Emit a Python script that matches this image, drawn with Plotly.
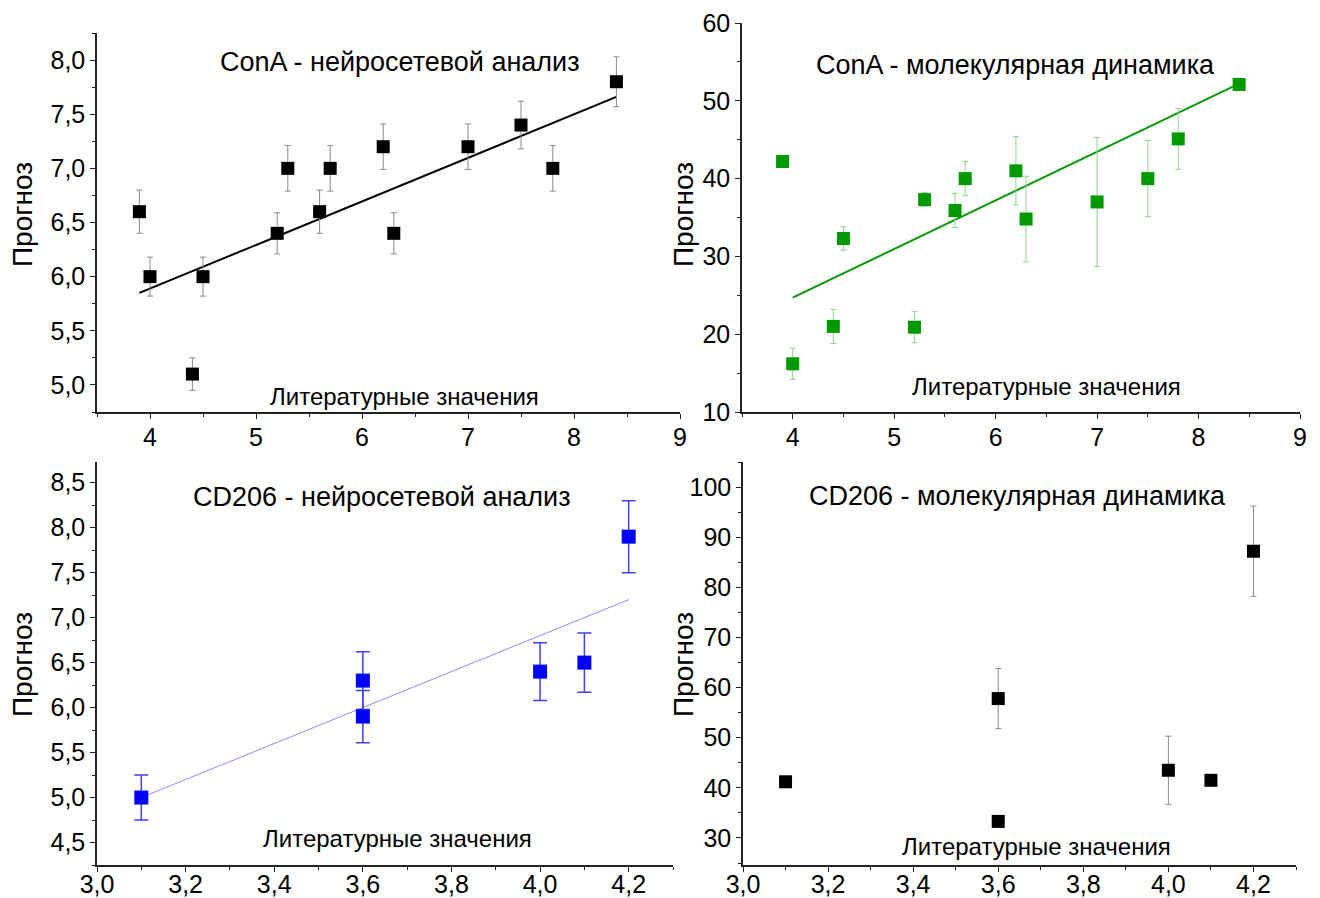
import plotly.graph_objects as go

# page body has an 8px default margin; size figure to fit the 1320x898 window
OFF = 8
W, H = 1320 - OFF, 898 - OFF

# ---------- data ----------
cona_x = [3.9, 4.0, 4.4, 4.5, 5.2, 5.3, 5.6, 5.7, 6.2, 6.3, 7.0, 7.5, 7.8, 8.4]
cona_nn_y = [6.6, 6.0, 5.1, 6.0, 6.4, 7.0, 6.6, 7.0, 7.2, 6.4, 7.2, 7.4, 7.0, 7.8]
cona_nn_err = [0.2, 0.18, 0.15, 0.18, 0.19, 0.21, 0.2, 0.21, 0.21, 0.19, 0.21, 0.22, 0.21, 0.23]
cona_nn_fit_x = [3.9, 8.4]
cona_nn_fit_y = [5.85, 7.66]

cona_md_y = [42.2, 16.2, 21.0, 32.3, 20.9, 37.3, 35.9, 40.0, 41.0, 34.8, 37.0, 40.0, 45.1, 52.1]
cona_md_err = [0.0, 2.0, 2.2, 1.5, 2.0, 0.9, 2.2, 2.2, 4.4, 5.5, 8.3, 4.9, 3.9, 0.3]
cona_md_fit_x = [4.0, 8.4]
cona_md_fit_y = [24.7, 52.2]

cd_x = [3.1, 3.6, 3.6, 4.0, 4.1, 4.2]
cd_nn_y = [5.0, 6.3, 5.9, 6.4, 6.5, 7.9]
cd_nn_err = [0.25, 0.32, 0.29, 0.32, 0.33, 0.4]
cd_nn_fit_x = [3.1, 4.2]
cd_nn_fit_y = [5.0, 7.2]

cd_md_y = [41.2, 57.8, 33.3, 43.5, 41.5, 87.2]
cd_md_err = [0.8, 6.0, 0.4, 6.8, 0.3, 9.0]

# tick labels (comma decimal separator)
cd_xtick_vals = [3.0, 3.2, 3.4, 3.6, 3.8, 4.0, 4.2]
cd_xtick_text = ["3,0", "3,2", "3,4", "3,6", "3,8", "4,0", "4,2"]
cona_nn_ytick_vals = [5.0, 5.5, 6.0, 6.5, 7.0, 7.5, 8.0]
cona_nn_ytick_text = ["5,0", "5,5", "6,0", "6,5", "7,0", "7,5", "8,0"]
cd_nn_ytick_vals = [4.5, 5.0, 5.5, 6.0, 6.5, 7.0, 7.5, 8.0, 8.5]
cd_nn_ytick_text = ["4,5", "5,0", "5,5", "6,0", "6,5", "7,0", "7,5", "8,0", "8,5"]

titles = ["ConA - нейросетевой анализ", "ConA - молекулярная динамика",
          "CD206 - нейросетевой анализ", "CD206 - молекулярная динамика"]
xlabel = "Литературные значения"
ylabel = "Прогноз"

FONT = "Liberation Sans, Arial, sans-serif"

def px_x(p):
    return (p - OFF) / W

def px_y(p):
    return 1 - (p - OFF) / H

fig = go.Figure()

def add_points(x, y, err, color, ecolor, ethick, ewidth, msize, axis):
    fig.add_trace(go.Scatter(
        x=x, y=y, mode="markers",
        marker=dict(symbol="square", size=msize, color=color, line=dict(width=0)),
        error_y=dict(type="data", array=err, visible=True, color=ecolor,
                     thickness=ethick, width=ewidth),
        xaxis="x" + axis, yaxis="y" + axis, showlegend=False))

def add_fit(x, y, color, width, axis):
    fig.add_trace(go.Scatter(
        x=x, y=y, mode="lines", line=dict(color=color, width=width),
        xaxis="x" + axis, yaxis="y" + axis, showlegend=False))

# panel 1
add_fit(cona_nn_fit_x, cona_nn_fit_y, "black", 2, "")
add_points(cona_x, cona_nn_y, cona_nn_err, "black", "#8a8a8a", 1, 3, 13, "")
# panel 2
add_fit(cona_md_fit_x, cona_md_fit_y, "#0a990a", 2, "2")
add_points(cona_x, cona_md_y, cona_md_err, "#009a00", "#8fd48f", 1, 3, 13, "2")
# panel 3
add_fit(cd_nn_fit_x, cd_nn_fit_y, "#8a8aff", 1, "3")
add_points(cd_x, cd_nn_y, cd_nn_err, "#0000ff", "#4040ff", 1.5, 7, 14, "3")
# panel 4
add_points(cd_x, cd_md_y, cd_md_err, "black", "#8a8a8a", 1, 3, 13, "4")

def make_axis(rng, dtick, minor, dom, anchor, standoff, vals=None, text=None):
    d = dict(showline=True, linecolor="#222", linewidth=1.5, ticks="outside",
             ticklen=5, tickwidth=1.2, tickcolor="#222", showgrid=False,
             zeroline=False, tickfont=dict(family=FONT, size=25, color="black"),
             mirror=False, automargin=False, ticklabelstandoff=standoff,
             range=rng, domain=dom, anchor=anchor,
             minor=dict(dtick=minor, tick0=0, ticks="outside", ticklen=3, tickcolor="#222"))
    if vals is not None:
        d.update(tickmode="array", tickvals=vals, ticktext=text)
    else:
        d.update(dtick=dtick, tick0=0, tickformat="d")
    return d

layout = dict(
    width=W, height=H, margin=dict(l=0, r=0, t=0, b=0),
    paper_bgcolor="white", plot_bgcolor="white", separators=", ",
    font=dict(family=FONT, color="black"),
    xaxis=make_axis([3.5, 9], 1, 0.5, [px_x(97), px_x(680)], "y", -3),
    yaxis=make_axis([4.75, 8.25], 0.5, 0.25, [px_y(412), px_y(33)], "x", 0,
                    cona_nn_ytick_vals, cona_nn_ytick_text),
    xaxis2=make_axis([3.5, 9], 1, 0.5, [px_x(742), px_x(1300)], "y2", -3),
    yaxis2=make_axis([10, 60], 10, 5, [px_y(412), px_y(23)], "x2", 0),
    xaxis3=make_axis([3.0, 4.3], 0.2, 0.1, [px_x(97), px_x(673)], "y3", -9,
                     cd_xtick_vals, cd_xtick_text),
    yaxis3=make_axis([4.25, 8.73], 0.5, 0.25, [px_y(865), px_y(462)], "x3", 0,
                     cd_nn_ytick_vals, cd_nn_ytick_text),
    xaxis4=make_axis([3.0, 4.3], 0.2, 0.1, [px_x(743), px_x(1296)], "y4", -9,
                     cd_xtick_vals, cd_xtick_text),
    yaxis4=make_axis([24.6, 105], 10, 5, [px_y(865), px_y(462)], "x4", 0),
)
fig.update_layout(**layout)

ann = []
title_pos = [(400, 62), (1015, 65), (382, 497), (1017, 496)]
xl_pos = [(404, 396), (1046, 386), (397, 838), (1036, 846)]
yl_pos = [(22, 215), (683, 215), (22, 665), (683, 665)]
for t, (tx, ty) in zip(titles, title_pos):
    ann.append(dict(text=t, x=px_x(tx), y=px_y(ty), xref="paper", yref="paper",
                    showarrow=False, font=dict(family=FONT, size=27, color="black"),
                    xanchor="center", yanchor="middle"))
for (tx, ty) in xl_pos:
    ann.append(dict(text=xlabel, x=px_x(tx), y=px_y(ty), xref="paper", yref="paper",
                    showarrow=False, font=dict(family=FONT, size=24, color="black"),
                    xanchor="center", yanchor="middle"))
for (tx, ty) in yl_pos:
    ann.append(dict(text=ylabel, x=px_x(tx), y=px_y(ty), xref="paper", yref="paper",
                    showarrow=False, textangle=-90,
                    font=dict(family=FONT, size=28, color="black"),
                    xanchor="center", yanchor="middle"))
fig.update_layout(annotations=ann)

fig.write_html("out.html")
